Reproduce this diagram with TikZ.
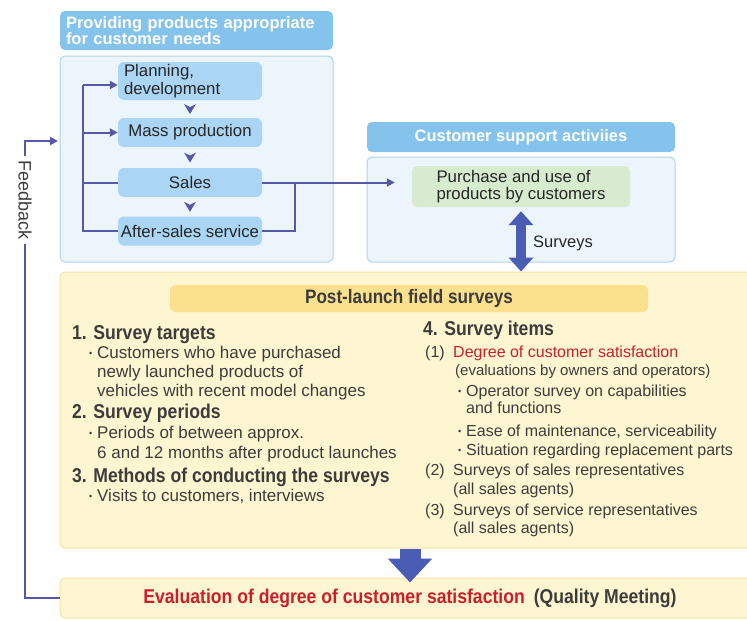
\documentclass[tikz,border=0pt]{standalone}
\usepackage{fontspec}
\setmainfont{Liberation Sans}
\newfontfamily\condf{Liberation Sans}[FakeStretch=0.88]
\usetikzlibrary{arrows.meta,calc}
\definecolor{hdrB}{HTML}{84C3EB}
\definecolor{stageB}{HTML}{AAD5F4}
\definecolor{panelB}{HTML}{EDF5FC}
\definecolor{panelE}{HTML}{AFD2EC}
\definecolor{grn}{HTML}{D7ECCF}
\definecolor{ylw}{HTML}{FEF6D0}
\definecolor{ylwE}{HTML}{F4E4A6}
\definecolor{ylwH}{HTML}{FBE18E}
\definecolor{connC}{HTML}{5558A6}
\definecolor{fatC}{HTML}{4A5CB4}
\definecolor{txt}{HTML}{3C3C3C}
\definecolor{dk}{HTML}{262626}
\definecolor{red1}{HTML}{CD1F2B}
\tikzset{
  box/.style={rectangle, rounded corners=5pt, inner sep=0pt},
  hdrblue/.style={box, fill=hdrB, text=white, font=\bfseries\fontsize{16.5}{16}\selectfont},
  stagebox/.style={box, fill=stageB, rounded corners=6pt, text=dk, minimum width=144pt, font=\fontsize{16.8}{18}\selectfont},
  panel/.style={box, fill=panelB, draw=panelE, line width=1pt},
  ybox/.style={box, fill=ylw, draw=ylwE, line width=1pt},
  conn/.style={draw=connC, line width=2pt},
  tip/.style={-{Triangle[length=8pt,width=8pt]}},
  txtL/.style={anchor=base west, inner sep=0pt, text=txt, font=\fontsize{17}{20}\selectfont},
  txtR/.style={anchor=base west, inner sep=0pt, text=txt, font=\fontsize{16}{19}\selectfont},
  hd/.style={anchor=base west, inner sep=0pt, text=txt, font=\condf\bfseries\fontsize{20}{22}\selectfont}
}
\newcommand{\bul}{\makebox[8pt][l]{\raisebox{2pt}{\fontsize{9}{9}\selectfont •}}}
\newcommand{\chev}[2]{\fill[connC] ($(#1.south)!0.5!(#2.north)$) ++(-6,-5) -- ++(6,3) -- ++(6,-3) -- ++(-6,10) -- cycle;}
\begin{document}
\begin{tikzpicture}[x=1pt,y=-1pt]
\fill[white] (0,0) rectangle (747,621);
\useasboundingbox (0,0) rectangle (747,621);

% left group
\node[hdrblue, minimum width=273pt, minimum height=39pt, text width=261pt, align=left] (hdr1) at (196.5,30.5) {Providing products appropriate\\for customer needs};
\node[panel, minimum width=273pt, minimum height=206pt] (panel1) at (196.5,159) {};
\node[stagebox, minimum height=38pt, text width=132pt, align=left] (plan) at (190,81) {Planning,\\development};
\node[stagebox, minimum height=29pt] (mass) at (190,132.5) {Mass production};
\node[stagebox, minimum height=29pt] (sales) at (190,182.5) {Sales};
\node[stagebox, minimum height=29pt] (after) at (190,231) {After-sales service};
\chev{plan}{mass}
\chev{mass}{sales}
\chev{sales}{after}

% right group
\node[hdrblue, minimum width=308pt, minimum height=30pt] (hdr2) at (521,137) {Customer support activiies};
\node[panel, minimum width=308pt, minimum height=105pt] (panel2) at (521,209.5) {};
\node[box, fill=grn, minimum width=218pt, minimum height=41pt, align=left, text=dk, font=\fontsize{16.8}{17}\selectfont] (purch) at (521,186.5) {Purchase and use of\\products by customers};

% connectors in left group
\coordinate (ltop) at (83,85);
\draw[conn] (after.west) -| (ltop);
\draw[conn,tip] (ltop) -- (plan.west |- ltop);
\draw[conn,tip] (mass.west -| ltop) -- (mass.west);
\draw[conn] (sales.west) -- (sales.west -| ltop);
\draw[conn,tip,shorten >=17pt] (sales.east) -- (sales.east -| purch.west);
\draw[conn] (after.east) -| ($(sales.east)+(33,0)$);

% survey block
\node[ybox, minimum width=700pt, minimum height=276pt] (big) at (410,410) {};
\node[box, fill=ylwH, rounded corners=6pt, minimum width=478pt, minimum height=27pt, text=txt, font=\condf\bfseries\fontsize{19.5}{20}\selectfont] (posthdr) at (409,298.5) {Post-launch field surveys};

\draw[fatC, line width=10pt, {Triangle[length=14pt,width=24pt]}-{Triangle[length=14pt,width=24pt]}] ($(purch.south)+(0,4)$) -- (purch.south |- big.north);
\node[anchor=west, inner sep=0pt, text=dk, font=\fontsize{16.5}{17}\selectfont] (surv) at (533,243) {Surveys};

% left column
\node[hd] (l1) at (72,339) {1. Survey targets};
\node[txtL] (l2) at (89,358) {\bul Customers who have purchased};
\node[txtL] (l3) at (97,377) {newly launched products of};
\node[txtL] (l4) at (97,396) {vehicles with recent model changes};
\node[hd] (l5) at (72,418) {2. Survey periods};
\node[txtL] (l6) at (89,438) {\bul Periods of between approx.};
\node[txtL] (l7) at (97,458) {6 and 12 months after product launches};
\node[hd] (l8) at (72,482) {3. Methods of conducting the surveys};
\node[txtL] (l9) at (89,501) {\bul Visits to customers, interviews};

% right column
\node[hd] (r1) at (423,335) {4. Survey items};
\node[txtR] (r2) at (425,357) {\makebox[28pt][l]{(1)}\textcolor{red1}{Degree of customer satisfaction}};
\node[txtR, font=\fontsize{15}{17}\selectfont] (r3) at (455,375) {(evaluations by owners and operators)};
\node[txtR] (r4) at (458,396) {\bul Operator survey on capabilities};
\node[txtR] (r5) at (466,413) {and functions};
\node[txtR] (r6) at (458,436) {\bul Ease of maintenance, serviceability};
\node[txtR] (r7) at (458,455) {\bul Situation regarding replacement parts};
\node[txtR] (r8) at (425,475) {\makebox[28pt][l]{(2)}Surveys of sales representatives};
\node[txtR] (r9) at (453,494) {(all sales agents)};
\node[txtR] (r10) at (425,515) {\makebox[28pt][l]{(3)}Surveys of service representatives};
\node[txtR] (r11) at (453,533) {(all sales agents)};

% evaluation
\node[ybox, minimum width=700pt, minimum height=40pt, text=txt, font=\condf\bfseries\fontsize{20}{22}\selectfont] (eval) at (410,598) {\textcolor{red1}{Evaluation of degree of customer satisfaction}\hspace{9pt}(Quality Meeting)};
\draw[fatC, line width=21pt, -{Triangle[length=24pt,width=43pt]}] (big.south) -- ($(eval.north)+(0,5)$);

% feedback
\node[rotate=-90, inner sep=4pt, text=txt, font=\fontsize{18}{18}\selectfont] (fb) at (25,200) {Feedback};
\coordinate (fbin) at (58,141);
\draw[conn] (eval.west) -| (fb.east);
\draw[conn,tip] (fb.west) |- (fbin);
\end{tikzpicture}
\end{document}
